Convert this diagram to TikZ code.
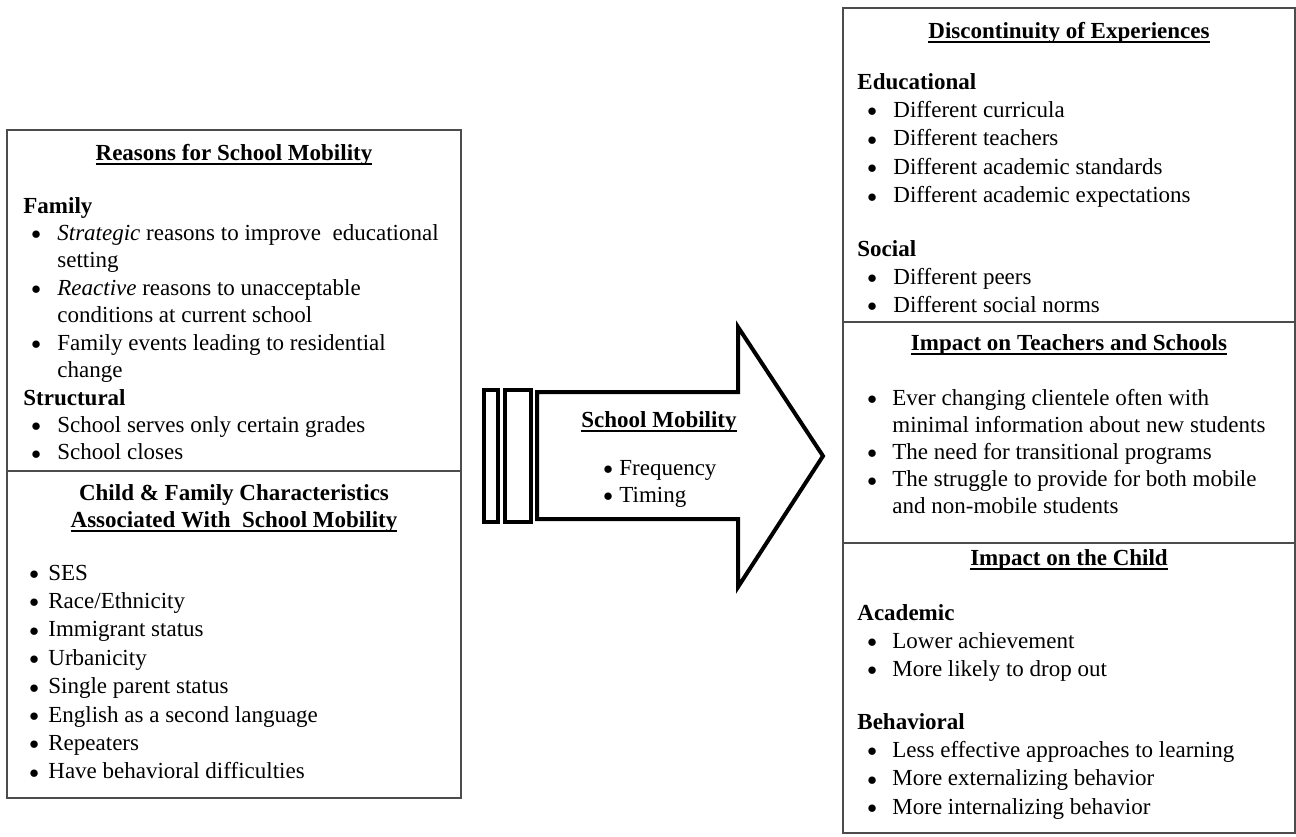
\documentclass[tikz,border=0pt]{standalone}
\usepackage{fontspec}
\setmainfont{Liberation Serif}

\newlength\ulwd
\newcommand\uln[1]{\settowidth\ulwd{#1}\rlap{\rule[-2.4pt]{\ulwd}{0.8pt}}#1}
\newlength\bulin
\newlength\txtin
\newcommand\li[1]{\hspace*{\bulin}\makebox[\dimexpr\txtin-\bulin\relax][l]{\raisebox{0.3pt}{\scalebox{0.8}{$\bullet$}}}#1}
\newcommand\cont[1]{\hspace*{\txtin}#1}

\begin{document}
\begin{tikzpicture}[x=0.5pt, y=-0.5pt,
		boxline/.style={draw=black!70, line width=1pt},
		arrowline/.style={draw=black, line width=2pt, line join=miter},
		txt/.style={inner sep=0pt, anchor=base west},
		head/.style={inner sep=0pt, anchor=base, font=\fontsize{11.5}{14}\selectfont\bfseries}]
	\useasboundingbox (0,0) rectangle (1296,836);

	% frames
	\coordinate (lnw) at (7,130);
	\coordinate (lse) at (461,798);
	\coordinate (lmid) at (7,471);
	\coordinate (rnw) at (843,8);
	\coordinate (rse) at (1295,833);
	\coordinate (rmida) at (843,322);
	\coordinate (rmidb) at (843,543);
	\draw [boxline] (lnw) rectangle (lse);
	\draw [boxline] (lmid) -- (lmid -| lse);
	\draw [boxline] (rnw) rectangle (rse);
	\draw [boxline] (rmida) -- (rmida -| rse);
	\draw [boxline] (rmidb) -- (rmidb -| rse);

	% left box
	\node (reasons) [head] at (234,160) {\uln{Reasons for School Mobility}};
	\node (famblk) [txt, font=\fontsize{11.5}{13.72}\selectfont] at (23,213) {%
		\setlength\bulin{4pt}\setlength\txtin{17pt}%
		\begin{tabular}[t]{@{}l@{}}
			\textbf{Family} \\
			\li{\textit{Strategic} reasons to improve~ educational} \\
			\cont{setting} \\
			\li{\textit{Reactive} reasons to unacceptable} \\
			\cont{conditions at current school} \\
			\li{Family events leading to residential} \\
			\cont{change} \\
			\textbf{Structural} \\
			\li{School serves only certain grades} \\
			\li{School closes} \\
		\end{tabular}};
	\node (charheada) [head] at (234,500) {Child \& Family Characteristics};
	\node (charheadb) [head] at (234,527) {\uln{Associated With~ School Mobility}};
	\node (charblk) [txt, font=\fontsize{11.5}{14.2}\selectfont] at (29,580) {%
		\setlength\bulin{0pt}\setlength\txtin{9.5pt}%
		\begin{tabular}[t]{@{}l@{}}
			\li{SES} \\
			\li{Race/Ethnicity} \\
			\li{Immigrant status} \\
			\li{Urbanicity} \\
			\li{Single parent status} \\
			\li{English as a second language} \\
			\li{Repeaters} \\
			\li{Have behavioral difficulties} \\
		\end{tabular}};

	% middle arrow
	\draw [arrowline] (484,390) rectangle (498,522);
	\draw [arrowline] (505,390) rectangle (531,522);
	\draw [arrowline] (537,392) -- (738,392) -- (738,327) -- (823,456)
		-- (738,587) -- (738,519) -- (537,519) -- cycle;
	\node (mobility) [head] at (659,427) {\uln{School Mobility}};
	\node (mobblk) [txt, font=\fontsize{11.5}{13.5}\selectfont] at (603,475) {%
		\setlength\bulin{0pt}\setlength\txtin{8pt}%
		\begin{tabular}[t]{@{}l@{}}
			\li{Frequency} \\
			\li{Timing} \\
		\end{tabular}};

	% right box
	\node (discont) [head] at (1069,38) {\uln{Discontinuity of Experiences}};
	\node (edublk) [txt, font=\fontsize{11.5}{14.2}\selectfont] at (857,89) {%
		\setlength\bulin{5pt}\setlength\txtin{18pt}%
		\begin{tabular}[t]{@{}l@{}}
			\textbf{Educational} \\
			\li{Different curricula} \\
			\li{Different teachers} \\
			\li{Different academic standards} \\
			\li{Different academic expectations} \\
		\end{tabular}};
	\node (socblk) [txt, font=\fontsize{11.5}{14}\selectfont] at (857,256) {%
		\setlength\bulin{5pt}\setlength\txtin{18pt}%
		\begin{tabular}[t]{@{}l@{}}
			\textbf{Social} \\
			\li{Different peers} \\
			\li{Different social norms} \\
		\end{tabular}};
	\node (teachers) [head] at (1069,350) {\uln{Impact on Teachers and Schools}};
	\node (teachblk) [txt, font=\fontsize{11.5}{13.62}\selectfont] at (857,405) {%
		\setlength\bulin{5pt}\setlength\txtin{17.5pt}%
		\begin{tabular}[t]{@{}l@{}}
			\li{Ever changing clientele often with} \\
			\cont{minimal information about new students} \\
			\li{The need for transitional programs} \\
			\li{The struggle to provide for both mobile} \\
			\cont{and non-mobile students} \\
		\end{tabular}};
	\node (child) [head] at (1069,565) {\uln{Impact on the Child}};
	\node (acablk) [txt, font=\fontsize{11.5}{14}\selectfont] at (857,620) {%
		\setlength\bulin{5pt}\setlength\txtin{17.5pt}%
		\begin{tabular}[t]{@{}l@{}}
			\textbf{Academic} \\
			\li{Lower achievement} \\
			\li{More likely to drop out} \\
		\end{tabular}};
	\node (behblk) [txt, font=\fontsize{11.5}{14.2}\selectfont] at (857,729) {%
		\setlength\bulin{5pt}\setlength\txtin{17.5pt}%
		\begin{tabular}[t]{@{}l@{}}
			\textbf{Behavioral} \\
			\li{Less effective approaches to learning} \\
			\li{More externalizing behavior} \\
			\li{More internalizing behavior} \\
		\end{tabular}};
\end{tikzpicture}
\end{document}
